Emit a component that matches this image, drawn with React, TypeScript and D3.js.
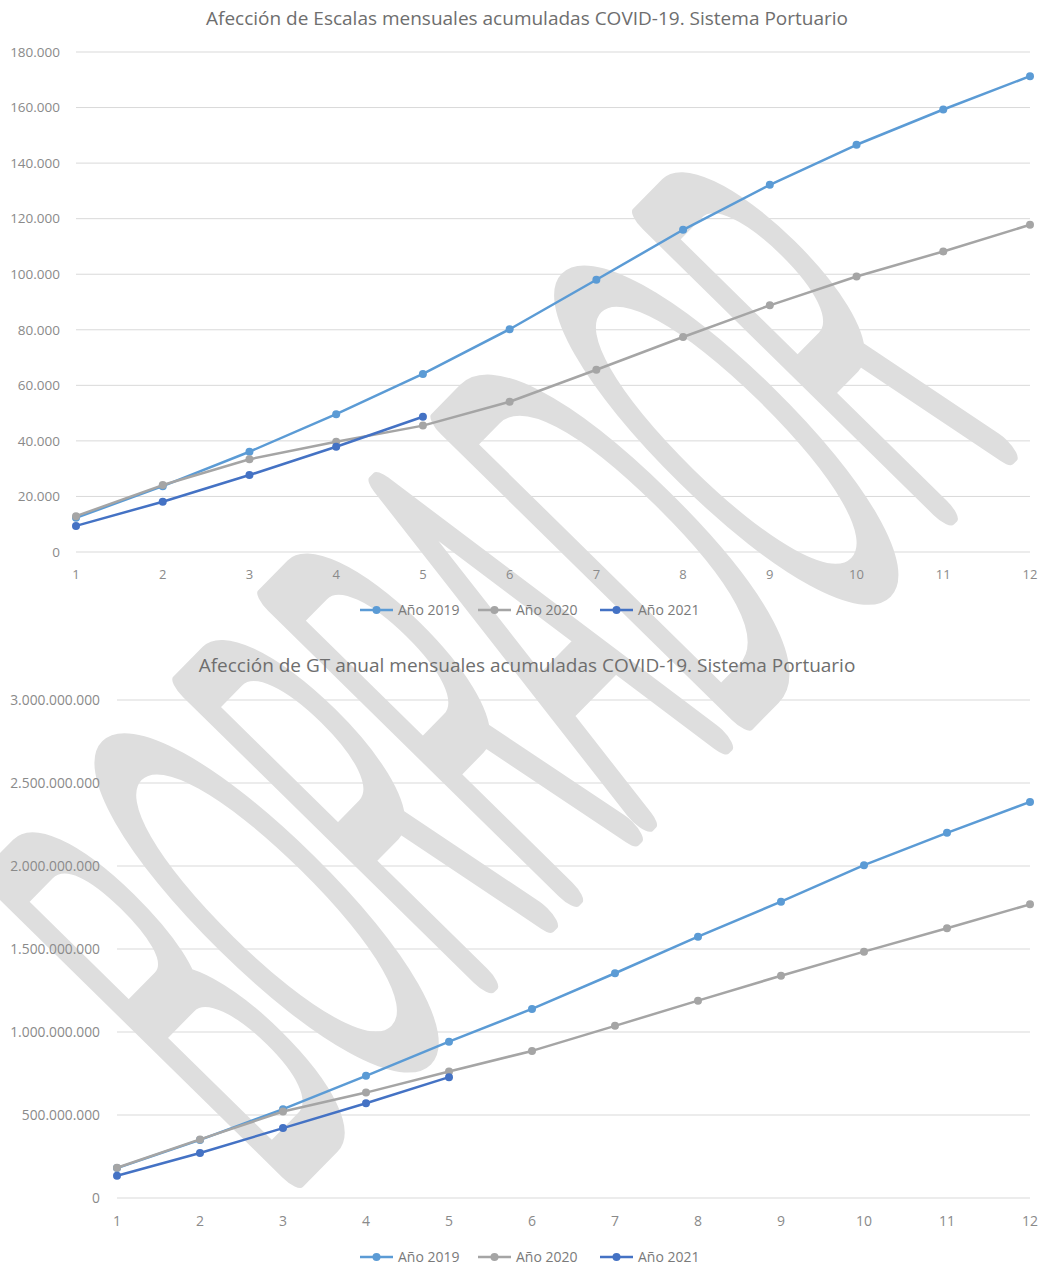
import React, { useEffect, useRef } from 'react';
import * as d3 from 'd3';

// meses 1..12
const months = [1, 2, 3, 4, 5, 6, 7, 8, 9, 10, 11, 12];
const seriesNames = ['Año 2019', 'Año 2020', 'Año 2021'];
const seriesColors = ['#5b9bd5', '#a5a5a5', '#4472c4'];

// escalas acumuladas
const escalas2019 = [12300, 23700, 36100, 49600, 64100, 80200, 98000, 116000, 132200, 146600, 159300, 171300];
const escalas2020 = [12900, 24100, 33400, 39700, 45500, 54100, 65600, 77400, 88800, 99200, 108200, 117800];
const escalas2021 = [9400, 18100, 27700, 37900, 48700];
const escalasTicks = [0, 20000, 40000, 60000, 80000, 100000, 120000, 140000, 160000, 180000];

// GT acumulado
const gt2019 = [180e6, 350e6, 535e6, 736e6, 942e6, 1139e6, 1354e6, 1574e6, 1785e6, 2005e6, 2200e6, 2386e6];
const gt2020 = [182e6, 353e6, 521e6, 635e6, 762e6, 886e6, 1037e6, 1189e6, 1339e6, 1484e6, 1625e6, 1769e6];
const gt2021 = [134e6, 271e6, 421e6, 571e6, 728e6];
const gtTicks = [0, 5e8, 10e8, 15e8, 20e8, 25e8, 30e8];

const titles = [
    'Afección de Escalas mensuales acumuladas COVID-19. Sistema Portuario',
    'Afección de GT anual mensuales acumuladas COVID-19. Sistema Portuario',
];

const esLocale = d3.formatLocale({ decimal: ',', thousands: '.', grouping: [3], currency: ['', ''] });
const fmt = esLocale.format(',d');

const FONT = '"Open Sans", sans-serif';

const charts = [
    {
        title: titles[0], series: [escalas2019, escalas2020, escalas2021], ticks: escalasTicks,
        x: [76, 1030], y: [552, 52], yLabelX: 60, xLabelY: 574, titleY: 18, legendY: 610,
        yTickSize: 13.5, xTickSize: 13, titleSize: 19,
    },
    {
        title: titles[1], series: [gt2019, gt2020, gt2021], ticks: gtTicks,
        x: [117, 1030], y: [1198, 700], yLabelX: 100, xLabelY: 1221, titleY: 665, legendY: 1257,
        yTickSize: 13.8, xTickSize: 14, titleSize: 19,
    },
];

const legendPos = [[360, 398], [478, 516], [600, 638]];

const App = () => {
    const container = useRef<SVGSVGElement>(null);

    useEffect(() => {
        if (!container.current) return;
        const svg = d3.select(container.current);
        svg.selectAll('*').remove();

        const gridLayer = svg.append('g');
        const markLayer = svg.append('g');
        const lineLayer = svg.append('g');
        const textLayer = svg.append('g').style('font-family', FONT);

        charts.forEach(c => {
            const xScale = d3.scaleLinear().domain([1, 12]).range(c.x);
            const yScale = d3.scaleLinear().domain([0, c.ticks[c.ticks.length - 1]]).range(c.y);

            gridLayer.selectAll(null)
                .data(c.ticks)
                .join('line')
                .attr('x1', c.x[0])
                .attr('x2', c.x[1])
                .attr('y1', d => yScale(d))
                .attr('y2', d => yScale(d))
                .attr('stroke', '#d9d9d9')
                .attr('stroke-width', 1);

            textLayer.selectAll(null)
                .data(c.ticks)
                .join('text')
                .attr('x', c.yLabelX)
                .attr('y', d => yScale(d))
                .attr('dy', '0.35em')
                .attr('text-anchor', 'end')
                .attr('font-size', c.yTickSize)
                .attr('fill', '#8a8a8a')
                .text(d => fmt(d));

            textLayer.selectAll(null)
                .data(months)
                .join('text')
                .attr('x', d => xScale(d))
                .attr('y', c.xLabelY)
                .attr('dy', '0.35em')
                .attr('text-anchor', 'middle')
                .attr('font-size', c.xTickSize)
                .attr('fill', '#8a8a8a')
                .text(d => d);

            textLayer.append('text')
                .attr('x', 527)
                .attr('y', c.titleY)
                .attr('dy', '0.35em')
                .attr('text-anchor', 'middle')
                .attr('font-size', c.titleSize)
                .attr('fill', '#6e6e6e')
                .text(c.title);

            const line = d3.line<number>()
                .x((_, i) => xScale(months[i]))
                .y(d => yScale(d));

            c.series.forEach((s, k) => {
                const g = lineLayer.append('g');
                g.append('path')
                    .attr('d', line(s))
                    .attr('fill', 'none')
                    .attr('stroke', seriesColors[k])
                    .attr('stroke-width', 2.5)
                    .attr('stroke-linejoin', 'round');
                g.selectAll('circle')
                    .data(s)
                    .join('circle')
                    .attr('cx', (_, i) => xScale(months[i]))
                    .attr('cy', d => yScale(d))
                    .attr('r', 4)
                    .attr('fill', seriesColors[k]);
            });

            // leyenda
            seriesNames.forEach((name, k) => {
                const [lx, tx] = legendPos[k];
                lineLayer.append('line')
                    .attr('x1', lx).attr('x2', lx + 33)
                    .attr('y1', c.legendY).attr('y2', c.legendY)
                    .attr('stroke', seriesColors[k])
                    .attr('stroke-width', 2.5);
                lineLayer.append('circle')
                    .attr('cx', lx + 16.5).attr('cy', c.legendY)
                    .attr('r', 4)
                    .attr('fill', seriesColors[k]);
                textLayer.append('text')
                    .attr('x', tx)
                    .attr('y', c.legendY)
                    .attr('dy', '0.35em')
                    .attr('font-size', 14)
                    .attr('fill', '#7a7a7a')
                    .text(name);
            });
        });

        // marca de agua
        const wm = markLayer.append('g')
            .attr('transform', 'translate(272, 1188) rotate(-45.5)');
        const wmText = wm.append('text')
            .attr('font-family', 'Inter, sans-serif')
            .attr('font-weight', 100)
            .attr('font-size', 560)
            .attr('fill', '#dedede')
            .attr('stroke', '#dedede')
            .attr('stroke-width', 32)
            .attr('stroke-linejoin', 'round')
            .attr('vector-effect', 'non-scaling-stroke')
            .text('BORRADOR');
        const natural = (wmText.node() as SVGTextElement).getComputedTextLength();
        wmText.attr('transform', `scale(${1050 / natural}, 1)`);
    }, []);

    return (
        <svg
            ref={container}
            width={1044}
            height={1267}
            style={{ position: 'absolute', left: 0, top: 0, background: '#fff' }}
        />
    );
};

export default App;
